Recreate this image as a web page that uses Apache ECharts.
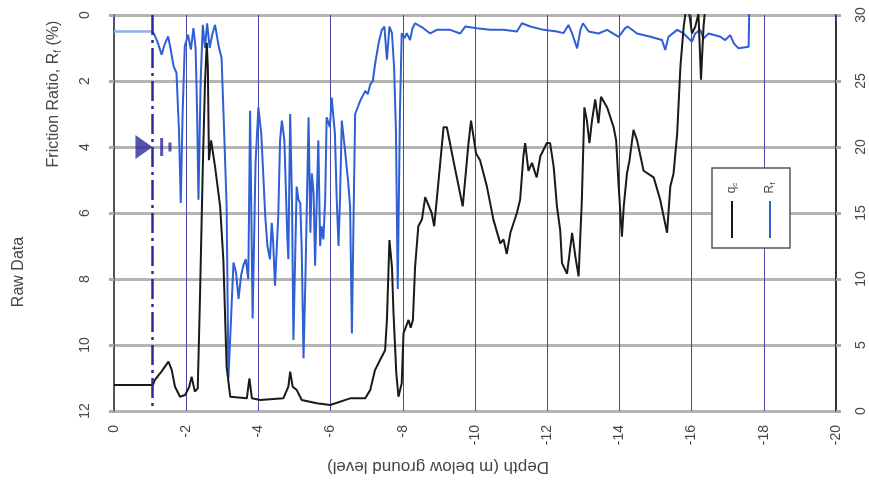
<!DOCTYPE html>
<html><head><meta charset="utf-8">
<script src="https://cdn.jsdelivr.net/npm/echarts@6.0.0/dist/echarts.min.js"></script>
<style>html,body{margin:0;padding:0;background:#fff}#c{width:869px;height:486px}</style>
</head><body><div id="c"></div>
<script>
// Depth (m below ground level, negative downwards)
const rfDepth = [0,-1.07,-1.12,-1.2,-1.32,-1.4,-1.5,-1.58,-1.65,-1.73,-1.8,-1.85,-1.9,-1.96,-2.05,-2.13,-2.2,-2.26,-2.3,-2.34,-2.4,-2.46,-2.52,-2.58,-2.65,-2.72,-2.8,-2.9,-2.98,-3.05,-3.12,-3.17,-3.25,-3.31,-3.38,-3.45,-3.52,-3.58,-3.65,-3.72,-3.77,-3.84,-3.92,-4.0,-4.08,-4.19,-4.25,-4.32,-4.37,-4.41,-4.46,-4.55,-4.6,-4.65,-4.72,-4.8,-4.83,-4.88,-4.93,-4.97,-5.06,-5.11,-5.16,-5.2,-5.25,-5.3,-5.39,-5.44,-5.48,-5.53,-5.57,-5.66,-5.71,-5.75,-5.8,-5.85,-5.89,-5.98,-6.03,-6.12,-6.17,-6.22,-6.26,-6.31,-6.4,-6.49,-6.54,-6.59,-6.63,-6.68,-6.82,-6.96,-7.03,-7.1,-7.17,-7.23,-7.33,-7.42,-7.49,-7.56,-7.63,-7.7,-7.76,-7.81,-7.86,-7.92,-7.97,-8.05,-8.11,-8.2,-8.27,-8.34,-8.57,-8.76,-8.94,-9.31,-9.59,-9.73,-10.05,-10.42,-10.79,-11.16,-11.3,-11.53,-11.9,-12.27,-12.45,-12.59,-12.69,-12.83,-12.92,-12.99,-13.15,-13.42,-13.66,-13.98,-14.16,-14.23,-14.49,-14.86,-15.18,-15.27,-15.36,-15.6,-15.78,-16.01,-16.1,-16.24,-16.33,-16.47,-16.8,-16.93,-17.07,-17.17,-17.3,-17.58,-17.61];
// Friction ratio Rf (%)
const rfValue = [0.5,0.5,0.6,0.8,1.2,0.9,0.65,1.1,1.55,1.75,3.5,5.7,3.0,0.95,0.6,1.05,0.4,1.0,2.8,5.6,2.0,0.3,1.0,0.25,1.0,0.6,0.3,0.95,1.3,3.5,5.8,11.0,9.0,7.5,7.8,8.6,7.9,7.6,7.4,8.0,2.9,9.2,4.5,2.8,3.6,6.1,7.0,7.4,6.3,6.9,8.2,6.1,3.8,3.2,3.8,6.7,7.4,3.0,5.6,9.85,5.2,5.6,5.7,7.1,10.4,8.1,3.1,6.6,4.8,5.4,7.6,3.8,7.0,6.4,6.8,5.6,3.1,3.4,2.5,3.6,5.6,7.0,5.6,3.2,4.1,5.1,5.8,9.65,6.6,3.0,2.6,2.3,2.4,2.1,2.0,1.5,0.85,0.45,0.35,1.35,0.35,0.55,1.6,3.5,8.3,3.0,0.55,0.7,0.55,0.76,0.4,0.25,0.4,0.56,0.45,0.45,0.56,0.35,0.4,0.45,0.45,0.5,0.25,0.35,0.45,0.5,0.55,0.3,0.56,1.01,0.45,0.25,0.5,0.56,0.45,0.66,0.4,0.35,0.56,0.66,0.76,1.06,0.66,0.45,0.56,0.81,0.56,0.45,0.71,0.56,0.66,0.76,0.61,0.86,1.01,0.96,-1];

const qcDepth = [0,-1.08,-1.12,-1.23,-1.32,-1.41,-1.51,-1.6,-1.69,-1.83,-1.97,-2.08,-2.15,-2.24,-2.32,-2.38,-2.46,-2.52,-2.57,-2.6,-2.63,-2.69,-2.8,-2.94,-3.03,-3.12,-3.22,-3.68,-3.75,-3.82,-4.05,-4.69,-4.83,-4.88,-4.95,-5.06,-5.2,-5.62,-5.99,-6.54,-6.96,-7.1,-7.23,-7.37,-7.51,-7.56,-7.63,-7.7,-7.74,-7.82,-7.88,-7.97,-8.02,-8.16,-8.22,-8.28,-8.34,-8.43,-8.53,-8.62,-8.8,-8.87,-8.94,-9.13,-9.22,-9.4,-9.66,-9.82,-9.89,-10.03,-10.14,-10.33,-10.51,-10.7,-10.79,-10.88,-10.98,-11.16,-11.25,-11.34,-11.39,-11.48,-11.58,-11.67,-11.71,-11.81,-11.99,-12.08,-12.18,-12.27,-12.36,-12.41,-12.55,-12.69,-12.78,-12.87,-12.96,-13.03,-13.1,-13.17,-13.24,-13.33,-13.42,-13.49,-13.66,-13.84,-13.91,-13.98,-14.07,-14.12,-14.21,-14.28,-14.39,-14.49,-14.67,-14.95,-15.13,-15.32,-15.41,-15.5,-15.6,-15.69,-15.78,-15.84,-15.92,-16.01,-16.1,-16.19,-16.26,-16.33,-16.38,-16.5];
// Cone resistance qc
const qcValue = [1.97,1.97,2.3,2.7,3.0,3.36,3.74,3.1,1.84,1.08,1.21,1.8,2.6,1.47,1.72,8.4,18.5,24.8,27.9,26,19.0,20.5,18.5,15.5,11.4,3.36,1.08,0.96,2.47,0.96,0.83,0.96,1.84,2.98,1.84,1.6,0.83,0.58,0.45,0.96,0.96,1.6,3.1,3.86,4.6,6.9,12.95,10.9,7.6,2.85,1.08,2.1,5.9,6.9,6.3,6.9,10.9,14.0,14.5,16.2,15.0,14.0,16.0,21.5,21.5,19.0,15.5,20.3,22.0,19.5,19.0,17.0,14.5,12.7,13.0,11.9,13.5,15.0,16.0,19.3,20.3,18.2,18.8,18.0,17.7,19.3,20.3,20.3,18.5,15.5,13.7,11.2,10.4,13.5,11.7,10.2,16.0,23.0,22.0,20.3,22.0,23.6,21.8,23.8,23.0,21.5,20.5,17.0,13.2,15.5,18.0,19.0,21.3,20.5,18.2,17.7,16.0,13.5,17.0,18.0,21.0,26.1,29.1,30.3,30.4,28.6,29.1,30.1,25.1,29.1,30.6,34];

const waterLevelDepth = -1.07;     // groundwater line
const waterMarkerDepth = -0.83;    // triangle symbol
const waterMarkerRf = 4;
const waterDashDepth = [-1.32, -1.55];
const rfPreDrillCount = 2;         // first points above the water line (drawn lighter)

const zip = (a, b) => a.map((v, i) => [v, b[i]]);
const FONT = 'Liberation Sans';
const TXT = '#474747';
const rfAll = zip(rfDepth, rfValue);

const chart = echarts.init(document.getElementById('c'));
chart.setOption({
  animation: false,
  backgroundColor: '#fff',
  grid: { left: 114, right: 33, top: 15, bottom: 75, containLabel: false, outerBoundsMode: 'none' },
  xAxis: {
    type: 'value', min: -20, max: 0, interval: 2, inverse: true,
    axisLine: { show: false },
    axisTick: { show: true, length: 7, lineStyle: { color: '#4a4aa6', width: 1 } },
    axisLabel: { rotate: 90, margin: 14, fontSize: 14, color: TXT, fontFamily: FONT },
    splitLine: { show: true, lineStyle: { color: '#4a4aa6', width: 1 } }
  },
  yAxis: [
    {
      type: 'value', min: 0, max: 12, interval: 2, inverse: true, position: 'left',
      axisLine: { show: true, lineStyle: { color: '#555', width: 2 } },
      axisTick: { show: true, length: 5, lineStyle: { color: '#aaa', width: 3 } },
      axisLabel: { rotate: 90, margin: 22, fontSize: 14, color: TXT, fontFamily: FONT },
      splitLine: { show: true, lineStyle: { color: '#b5b5b5', width: 3 } }
    },
    {
      type: 'value', min: 0, max: 30, interval: 5, position: 'right',
      axisLine: { show: true, lineStyle: { color: '#333', width: 2 } },
      axisTick: { show: true, length: 5, lineStyle: { color: '#aaa', width: 3 } },
      axisLabel: { rotate: 90, margin: 18, fontSize: 14, color: TXT, fontFamily: FONT },
      splitLine: { show: false }
    }
  ],
  series: [
    {
      name: 'Rf-top', type: 'line', yAxisIndex: 0, data: rfAll.slice(0, rfPreDrillCount),
      showSymbol: false, symbol: 'none', lineStyle: { color: '#8eaee4', width: 2.5 }, z: 3
    },
    {
      name: 'Rf', type: 'line', yAxisIndex: 0, data: rfAll.slice(rfPreDrillCount - 1),
      showSymbol: false, symbol: 'none', clip: true,
      lineStyle: { color: '#2f5fd6', width: 2 }, z: 3,
      markLine: {
        silent: true, symbol: ['none', 'none'], label: { show: false },
        lineStyle: { color: '#2a2a9c', width: 2.5, type: [20, 5, 3, 5] },
        data: [{ xAxis: waterLevelDepth }]
      }
    },
    {
      name: 'qc', type: 'line', yAxisIndex: 1, data: zip(qcDepth, qcValue),
      showSymbol: false, symbol: 'none', clip: true,
      lineStyle: { color: '#1a1a1a', width: 2 }, z: 4
    },
    {
      type: 'scatter', yAxisIndex: 0, silent: true, z: 5,
      data: [[waterMarkerDepth, waterMarkerRf]],
      symbol: 'triangle', symbolSize: [24, 17], symbolRotate: -90,
      itemStyle: { color: '#2a2a9c' }
    },
    {
      type: 'scatter', yAxisIndex: 0, silent: true, z: 5,
      data: [
        { value: [waterDashDepth[0], waterMarkerRf], symbolSize: [3, 18] },
        { value: [waterDashDepth[1], waterMarkerRf], symbolSize: [3, 9] }
      ],
      symbol: 'rect', itemStyle: { color: '#2a2a9c' }
    }
  ],
  graphic: [
    { type: 'text', x: 54, y: 94, rotation: Math.PI / 2, z: 50,
      style: { text: 'Friction Ratio, R{s|f} (%)', fontSize: 16, fontFamily: FONT, fill: TXT,
        align: 'center', verticalAlign: 'middle',
        rich: { s: { fontSize: 10, fontFamily: FONT, fill: TXT, padding: [8, 0, 0, 0] } } } },
    { type: 'text', x: 19, y: 272, rotation: Math.PI / 2, z: 50,
      style: { text: 'Raw Data', fontSize: 16, fontFamily: FONT, fill: TXT, align: 'center', verticalAlign: 'middle' } },
    { type: 'text', x: 438, y: 467, rotation: Math.PI, z: 50,
      style: { text: 'Depth (m below ground level)', fontSize: 17, fontFamily: FONT, fill: TXT, align: 'center', verticalAlign: 'middle' } },
    { type: 'rect', z: 60, shape: { x: 712, y: 168, width: 78, height: 80 },
      style: { fill: '#fff', stroke: '#555', lineWidth: 1.5 } },
    { type: 'line', z: 61, shape: { x1: 732, y1: 201, x2: 732, y2: 238 }, style: { stroke: '#1a1a1a', lineWidth: 2 } },
    { type: 'line', z: 61, shape: { x1: 770, y1: 201, x2: 770, y2: 238 }, style: { stroke: '#2f5fd6', lineWidth: 2 } },
    { type: 'text', x: 732, y: 188, rotation: Math.PI / 2, z: 62,
      style: { text: 'q{s|c}', fontSize: 12, fontFamily: FONT, fill: TXT, align: 'center', verticalAlign: 'middle',
        rich: { s: { fontSize: 8, fontFamily: FONT, fill: TXT, padding: [6, 0, 0, 0] } } } },
    { type: 'text', x: 770, y: 188, rotation: Math.PI / 2, z: 62,
      style: { text: 'R{s|f}', fontSize: 12, fontFamily: FONT, fill: TXT, align: 'center', verticalAlign: 'middle',
        rich: { s: { fontSize: 8, fontFamily: FONT, fill: TXT, padding: [6, 0, 0, 0] } } } }
  ]
});
</script></body></html>
